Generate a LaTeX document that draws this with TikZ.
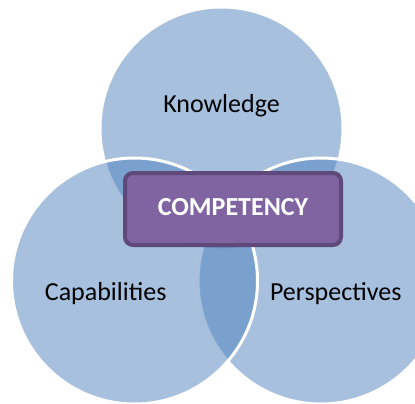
\documentclass[tikz,border=0pt]{standalone}
\usepackage{fontspec}
\setmainfont{Carlito}
\definecolor{vennblue}{HTML}{4F81BD}
\definecolor{boxfill}{HTML}{8064A2}
\definecolor{boxline}{HTML}{5F497A}
\tikzset{
  venn/.style={circle, draw=white, line width=3pt, fill=vennblue, fill opacity=0.5, minimum size=246pt, inner sep=0pt},
  lbl/.style={anchor=base, font=\fontsize{26}{30}\selectfont, text=black, inner sep=0pt},
  compbox/.style={rectangle, rounded corners=8pt, draw=boxline, line width=4pt, fill=boxfill,
    minimum width=216pt, minimum height=72pt, inner sep=0pt, text=white, text depth=5pt,
    font=\fontsize{26}{30}\selectfont\bfseries}
}
\begin{document}
\begin{tikzpicture}[x=1pt,y=-1pt]
\useasboundingbox (0,0) rectangle (415,404);
\begin{scope}
\clip (0,0) rectangle (415,404);
\node[venn, minimum size=243pt] (ctop) at (221.5,128.5) {};
\node[venn] (cright) at (321,281) {};
\node[venn] (cleft) at (134.5,281) {};
\end{scope}
\node[lbl] (knowledge) at (221.5,112.3) {Knowledge};
\node[lbl] (capabilities) at (105.7,300) {Capabilities};
\node[lbl] (perspectives) at (335.7,300) {Perspectives};
\node[compbox] (comp) at (233,209) {COMPETENCY};
\end{tikzpicture}
\end{document}
